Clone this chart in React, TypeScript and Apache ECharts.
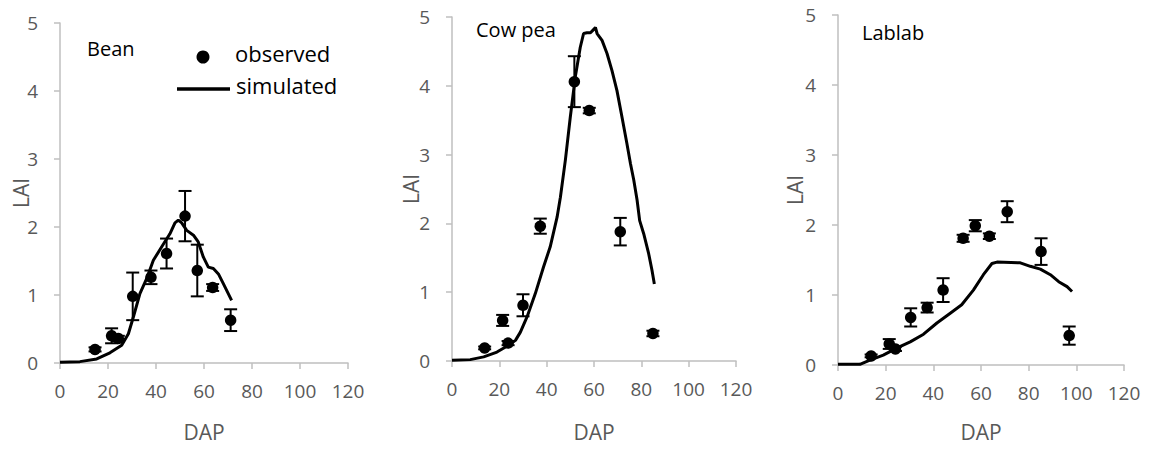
import React, { useEffect, useRef } from "react";
import * as echarts from "echarts";

// Observed LAI (mean and half error bar) and simulated LAI against days after planting
const beanObsDap = [14.6, 21.5, 24.3, 30.3, 37.9, 44.4, 52.1, 57.2, 63.6, 71.1];
const beanObsLai = [0.2, 0.4, 0.36, 0.98, 1.26, 1.61, 2.16, 1.36, 1.11, 0.63];
const beanObsErr = [0.03, 0.11, 0.04, 0.35, 0.1, 0.22, 0.37, 0.38, 0.05, 0.16];
const beanSimDap = [0, 8.3, 15.3, 20.8, 25.7, 28.5, 30.6, 33.3, 36.1, 38.9, 43.1, 45.8, 47.9, 49.3, 50.7, 52.8, 55.6, 57.6, 59.7, 61.8, 63.9, 66, 68, 71.5];
const beanSimLai = [0.01, 0.02, 0.06, 0.15, 0.26, 0.43, 0.68, 1.02, 1.24, 1.51, 1.75, 1.9, 2.06, 2.1, 2.06, 1.95, 1.88, 1.78, 1.56, 1.41, 1.39, 1.31, 1.17, 0.92];

const cowpeaObsDap = [13.8, 21.4, 23.7, 30.0, 37.3, 51.7, 58.0, 71.1, 84.9];
const cowpeaObsLai = [0.19, 0.59, 0.26, 0.81, 1.96, 4.06, 3.64, 1.88, 0.4];
const cowpeaObsErr = [0.02, 0.08, 0.03, 0.16, 0.11, 0.37, 0.04, 0.2, 0.04];
const cowpeaSimDap = [0, 7.7, 13.4, 19, 23.9, 26.8, 28.9, 31.7, 35.2, 38.7, 41.5, 44.4, 45.8, 47.9, 50, 52.1, 54.2, 55.6, 57, 58.5, 59.9, 60.6, 61.3, 63.4, 65.5, 67.6, 69.7, 71.8, 73.9, 75.4, 76.8, 78.2, 79.3, 81, 83.1, 84.5, 85.5];
const cowpeaSimLai = [0.01, 0.02, 0.06, 0.13, 0.23, 0.3, 0.42, 0.64, 0.98, 1.37, 1.66, 2.09, 2.38, 2.92, 3.55, 4.13, 4.56, 4.76, 4.77, 4.77, 4.82, 4.85, 4.76, 4.66, 4.47, 4.22, 3.93, 3.55, 3.16, 2.87, 2.63, 2.34, 2.04, 1.85, 1.56, 1.32, 1.12];

const lablabObsDap = [13.9, 21.5, 24.1, 30.5, 37.4, 44.1, 52.5, 57.6, 63.5, 71.0, 85.2, 97.0];
const lablabObsLai = [0.13, 0.3, 0.23, 0.68, 0.82, 1.07, 1.81, 1.99, 1.84, 2.19, 1.62, 0.42];
const lablabObsErr = [0.02, 0.07, 0.03, 0.13, 0.07, 0.17, 0.05, 0.08, 0.04, 0.15, 0.19, 0.13];
const lablabSimDap = [0, 9.2, 13.4, 19, 24.6, 30.3, 35.9, 41.5, 47.1, 51.9, 56.8, 61, 64.6, 66.7, 76.5, 80.7, 84.9, 89.1, 92.6, 96.1, 98.2];
const lablabSimLai = [0.01, 0.01, 0.07, 0.14, 0.24, 0.33, 0.44, 0.6, 0.74, 0.86, 1.07, 1.29, 1.45, 1.47, 1.46, 1.41, 1.37, 1.29, 1.19, 1.12, 1.05];

const cropNames = ["Bean", "Cow pea", "Lablab"];
const xTicks = { min: 0, max: 120, interval: 20 };
const yTicks = { min: 0, max: 5, interval: 1 };

const panels = [
  { obsDap: beanObsDap, obsLai: beanObsLai, obsErr: beanObsErr, simDap: beanSimDap, simLai: beanSimLai },
  { obsDap: cowpeaObsDap, obsLai: cowpeaObsLai, obsErr: cowpeaObsErr, simDap: cowpeaSimDap, simLai: cowpeaSimLai },
  { obsDap: lablabObsDap, obsLai: lablabObsLai, obsErr: lablabObsErr, simDap: lablabSimDap, simLai: lablabSimLai },
];

const grids = [
  { left: 60, top: 23, width: 288, height: 340 },
  { left: 452, top: 17, width: 284, height: 344 },
  { left: 838, top: 15, width: 286, height: 350 },
];
const labelPos = [
  { x: 87, y: 52 },
  { x: 476, y: 33 },
  { x: 862, y: 36 },
];
const yNameGap = [29, 31, 33];
const xNameGap = [58, 60, 56];

const FONT = "'Open Sans', 'Liberation Sans', sans-serif";
const AXIS_GREY = "#bfbfbf";
const TEXT_GREY = "#595959";

function errorBar(params: any, api: any) {
  const x = api.value(0);
  const lo = api.coord([x, api.value(1)]);
  const hi = api.coord([x, api.value(2)]);
  const style = { stroke: "#000", lineWidth: 2 };
  const cap = 6.5;
  return {
    type: "group",
    children: [
      { type: "line", shape: { x1: hi[0], y1: hi[1], x2: lo[0], y2: lo[1] }, style },
      { type: "line", shape: { x1: hi[0] - cap, y1: hi[1], x2: hi[0] + cap, y2: hi[1] }, style },
      { type: "line", shape: { x1: lo[0] - cap, y1: lo[1], x2: lo[0] + cap, y2: lo[1] }, style },
    ],
  };
}

export default function App() {
  const ref = useRef<HTMLDivElement>(null);

  useEffect(() => {
    if (!ref.current) return;
    const chart = echarts.init(ref.current, null, { renderer: "svg" });

    const xAxes = grids.map((_, i) => ({
      type: "value",
      gridIndex: i,
      ...xTicks,
      name: "DAP",
      nameLocation: "middle",
      nameGap: xNameGap[i],
      nameMoveOverlap: false,
      nameTextStyle: { color: TEXT_GREY, fontSize: 21, fontFamily: FONT },
      axisLine: { show: true, lineStyle: { color: AXIS_GREY, width: 1.5 } },
      axisTick: { show: true, length: 6, lineStyle: { color: AXIS_GREY, width: 1.5 } },
      axisLabel: { color: TEXT_GREY, fontSize: 19, fontFamily: FONT, margin: 18 },
      splitLine: { show: false },
    }));
    const yAxes = grids.map((_, i) => ({
      type: "value",
      gridIndex: i,
      ...yTicks,
      name: "LAI",
      nameLocation: "middle",
      nameGap: yNameGap[i],
      nameMoveOverlap: false,
      nameTextStyle: { color: TEXT_GREY, fontSize: 21, fontFamily: FONT },
      axisLine: { show: true, lineStyle: { color: AXIS_GREY, width: 1.5 } },
      axisTick: { show: true, length: 6, lineStyle: { color: AXIS_GREY, width: 1.5 } },
      axisLabel: { color: TEXT_GREY, fontSize: 19, fontFamily: FONT, margin: 22 },
      splitLine: { show: false },
    }));

    const series: any[] = [];
    panels.forEach((p, i) => {
      series.push({
        name: "simulated",
        type: "line",
        xAxisIndex: i,
        yAxisIndex: i,
        data: p.simDap.map((d, k) => [d, p.simLai[k]]),
        showSymbol: false,
        lineStyle: { color: "#000", width: 3 },
        z: 3,
      });
      series.push({
        name: "error",
        type: "custom",
        xAxisIndex: i,
        yAxisIndex: i,
        data: p.obsDap.map((d, k) => [d, p.obsLai[k] - p.obsErr[k], p.obsLai[k] + p.obsErr[k]]),
        encode: { x: 0, y: [1, 2] },
        renderItem: errorBar,
        z: 4,
      });
      series.push({
        name: "observed",
        type: "scatter",
        xAxisIndex: i,
        yAxisIndex: i,
        data: p.obsDap.map((d, k) => [d, p.obsLai[k]]),
        symbol: "circle",
        symbolSize: 11.5,
        itemStyle: { color: "#000", opacity: 1 },
        z: 5,
      });
    });

    const graphic: any[] = cropNames.map((name, i) => ({
      type: "text",
      left: labelPos[i].x,
      top: labelPos[i].y - 14,
      style: { text: name, fill: "#000", fontSize: 20, fontFamily: FONT },
    }));
    // Legend for the first panel
    graphic.push(
      { type: "circle", shape: { cx: 203, cy: 57, r: 6.5 }, style: { fill: "#000" } },
      { type: "text", left: 235, top: 42, style: { text: "observed", fill: "#000", fontSize: 22, fontFamily: FONT } },
      { type: "line", shape: { x1: 177, y1: 89, x2: 230, y2: 89 }, style: { stroke: "#000", lineWidth: 3.5 } },
      { type: "text", left: 236, top: 74, style: { text: "simulated", fill: "#000", fontSize: 22, fontFamily: FONT } }
    );

    chart.setOption({
      animation: false,
      backgroundColor: "#fff",
      grid: grids,
      xAxis: xAxes,
      yAxis: yAxes,
      series,
      graphic,
    });

    return () => chart.dispose();
  }, []);

  return (
    <div
      ref={ref}
      style={{ position: "absolute", left: 0, top: 0, width: 1152, height: 450 }}
    />
  );
}
